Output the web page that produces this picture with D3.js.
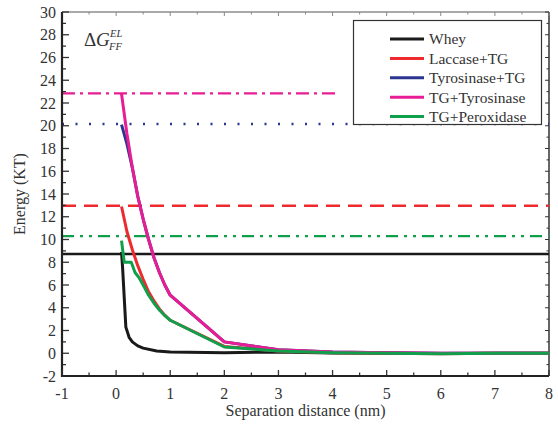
<!DOCTYPE html>
<html>
<head>
<meta charset="utf-8">
<script src="https://cdn.jsdelivr.net/npm/d3@7"></script>
<style>
  html, body { margin: 0; padding: 0; background: #fff; }
  svg { display: block; }
  svg text { font-family: "Liberation Serif", "DejaVu Serif", serif; }
</style>
</head>
<body>
<svg id="chart" width="558" height="433"></svg>
<script>
// Series names and colours
const seriesNames = ["Whey", "Laccase+TG", "Tyrosinase+TG", "TG+Tyrosinase", "TG+Peroxidase"];
const seriesColors = ["#1a1a1a", "#ee2a2e", "#2b3590", "#e81c94", "#10a04c"];

// Energy profiles: separation distance (nm) and energy (KT)
const wheyDist = [0.1, 0.12, 0.18, 0.24, 0.3, 0.4, 0.5, 0.75, 1, 2, 3, 4, 5, 6, 7, 8];
const wheyEnergy = [8.9, 7.5, 2.3, 1.4, 1.0, 0.65, 0.45, 0.2, 0.1, 0.05, 0.12, 0.02, 0, -0.03, 0, 0];

const laccaseDist = [0.1, 0.2, 0.3, 0.4, 0.5, 0.6, 0.7, 0.8, 0.9, 1, 2, 3, 4, 5, 6, 7, 8];
const laccaseEnergy = [12.9, 10.7, 9.1, 7.7, 6.5, 5.4, 4.6, 3.9, 3.35, 2.9, 0.6, 0.2, 0.05, 0, -0.05, 0, 0];

const tyroTgDist = [0.1, 0.2, 0.3, 0.4, 0.5, 0.6, 0.7, 0.8, 0.9, 1, 2, 3, 4, 5, 6, 7, 8];
const tyroTgEnergy = [20.1, 18.4, 16.3, 13.8, 11.8, 10.0, 8.4, 7.1, 6.0, 5.1, 1.0, 0.3, 0.1, 0.05, 0, 0, 0];

const tgTyroDist = [0.1, 0.2, 0.3, 0.4, 0.5, 0.6, 0.7, 0.8, 0.9, 1, 2, 3, 4, 5, 6, 7, 8];
const tgTyroEnergy = [22.8, 19.3, 16.3, 13.8, 11.8, 10.0, 8.4, 7.1, 6.0, 5.1, 1.0, 0.3, 0.1, 0.05, 0, 0, 0];

const peroxDist = [0.1, 0.15, 0.28, 0.35, 0.43, 0.5, 0.6, 0.7, 0.8, 0.9, 1, 2, 3, 4, 5, 6, 7, 8];
const peroxEnergy = [9.9, 8.0, 8.0, 7.1, 6.6, 6.0, 5.1, 4.4, 3.8, 3.3, 2.9, 0.55, 0.2, 0.05, 0, -0.05, 0, 0];

// Maximum energy barrier of each system (horizontal reference lines)
const barrierEnergy = [8.72, 12.97, 20.15, 22.85, 10.3];
const barrierEnd = [8, 8, 8, 4.05, 8];
const barrierDash = ["none", "14,8", "2,11.5", "13,5,3,5", "12,6,3,6,3,6"];

// Axis ticks
const xTicks = [-1, 0, 1, 2, 3, 4, 5, 6, 7, 8];
const yTicks = [-2, 0, 2, 4, 6, 8, 10, 12, 14, 16, 18, 20, 22, 24, 26, 28, 30];

const curves = [
  [wheyDist, wheyEnergy],
  [laccaseDist, laccaseEnergy],
  [tyroTgDist, tyroTgEnergy],
  [tgTyroDist, tgTyroEnergy],
  [peroxDist, peroxEnergy]
];

const FONT = "'Liberation Serif', 'DejaVu Serif', serif";
const svg = d3.select("#chart").attr("font-family", FONT);
const plotLeft = 62, plotRight = 549, plotTop = 12, plotBottom = 376;

const x = d3.scaleLinear().domain([-1, 8]).range([plotLeft, plotRight]);
const y = d3.scaleLinear().domain([-2, 30]).range([plotBottom, plotTop]);

const tickColor = "#333";

// Frame: thin top and right edges with inward minor ticks
const frame = svg.append("g");
frame.append("line").attr("x1", plotLeft).attr("x2", plotRight).attr("y1", plotTop).attr("y2", plotTop)
  .attr("stroke", "#555").attr("stroke-width", 1);
frame.append("line").attr("x1", plotRight).attr("x2", plotRight).attr("y1", plotTop).attr("y2", plotBottom)
  .attr("stroke", "#333").attr("stroke-width", 1.5);

const xMinor = d3.range(-1, 8.01, 0.5);
const yMinor = d3.range(-2, 30.01, 1);

frame.selectAll("line.tt").data(xMinor).join("line").attr("class", "tt")
  .attr("x1", d => x(d)).attr("x2", d => x(d))
  .attr("y1", plotTop).attr("y2", d => plotTop + (Number.isInteger(d) ? 4 : 2.5))
  .attr("stroke", "#888").attr("stroke-width", 1);
frame.selectAll("line.rt").data(yMinor).join("line").attr("class", "rt")
  .attr("x1", plotRight).attr("x2", d => plotRight - (d % 2 === 0 ? 4 : 2.5))
  .attr("y1", d => y(d)).attr("y2", d => y(d))
  .attr("stroke", "#333").attr("stroke-width", 1);

// Reference barrier lines
const refG = svg.append("g");
barrierEnergy.forEach((v, i) => {
  refG.append("line")
    .attr("x1", x(-1)).attr("x2", x(barrierEnd[i]))
    .attr("y1", y(v)).attr("y2", y(v))
    .attr("stroke", seriesColors[i])
    .attr("stroke-width", i === 0 ? 2.6 : 2.4)
    .attr("stroke-dasharray", barrierDash[i]);
});

// Energy curves
const line = d3.line().x(d => x(d[0])).y(d => y(d[1]));
const curveG = svg.append("g");
curves.forEach((c, i) => {
  const pts = c[0].map((d, j) => [d, c[1][j]]);
  curveG.append("path")
    .datum(pts)
    .attr("d", line)
    .attr("fill", "none")
    .attr("stroke", seriesColors[i])
    .attr("stroke-width", 3)
    .attr("stroke-linejoin", "round");
});

// Left axis
const yAxis = svg.append("g").attr("transform", `translate(${plotLeft},0)`);
yAxis.selectAll("line.minor").data(yMinor).join("line").attr("class", "minor")
  .attr("x1", 0).attr("x2", d => (d % 2 === 0 ? 7 : 4))
  .attr("y1", d => y(d)).attr("y2", d => y(d))
  .attr("stroke", tickColor).attr("stroke-width", 1.3);
yAxis.append("line").attr("x1", 0).attr("x2", 0).attr("y1", plotTop).attr("y2", plotBottom + 1)
  .attr("stroke", "#222").attr("stroke-width", 2.2);
yAxis.selectAll("text").data(yTicks).join("text")
  .attr("x", -6).attr("y", d => y(d)).attr("dy", "0.35em")
  .attr("text-anchor", "end").attr("font-size", 16).attr("fill", "#333")
  .attr("font-family", FONT)
  .text(d => d);

// Bottom axis
const xAxis = svg.append("g").attr("transform", `translate(0,${plotBottom})`);
xAxis.selectAll("line.minor").data(xMinor).join("line").attr("class", "minor")
  .attr("x1", d => x(d)).attr("x2", d => x(d))
  .attr("y1", 0).attr("y2", d => -(Number.isInteger(d) ? 6 : 3.5))
  .attr("stroke", tickColor).attr("stroke-width", 1.3);
xAxis.append("line").attr("x1", plotLeft - 1).attr("x2", plotRight).attr("y1", 0).attr("y2", 0)
  .attr("stroke", "#222").attr("stroke-width", 2.2);
xAxis.selectAll("text").data(xTicks).join("text")
  .attr("x", d => x(d)).attr("y", 23)
  .attr("text-anchor", "middle").attr("font-size", 16).attr("fill", "#333")
  .attr("font-family", FONT)
  .text(d => d);

// Axis titles
svg.append("text")
  .attr("x", (plotLeft + plotRight) / 2).attr("y", 416)
  .attr("text-anchor", "middle").attr("font-size", 16).attr("fill", "#333")
  .attr("font-family", FONT)
  .text("Separation distance (nm)");
svg.append("text")
  .attr("transform", `translate(25,${(plotTop + plotBottom) / 2}) rotate(-90)`)
  .attr("text-anchor", "middle").attr("font-size", 16).attr("fill", "#333")
  .attr("font-family", FONT)
  .text("Energy (KT)");

// Panel label ΔG_FF^EL
const lab = svg.append("g").attr("fill", "#333").attr("font-family", FONT);
lab.append("text").attr("x", 84).attr("y", 46).attr("font-size", 19).text("Δ");
lab.append("text").attr("x", 96).attr("y", 46).attr("font-size", 19).attr("font-style", "italic").text("G");
lab.append("text").attr("x", 110).attr("y", 37).attr("font-size", 10.5).attr("font-style", "italic").text("EL");
lab.append("text").attr("x", 109).attr("y", 50).attr("font-size", 10.5).attr("font-style", "italic").text("FF");

// Legend
const legend = svg.append("g").attr("font-family", FONT);
legend.append("rect")
  .attr("x", 353.5).attr("y", 20.5).attr("width", 188).attr("height", 104)
  .attr("fill", "#fff").attr("stroke", "#333").attr("stroke-width", 1.2);
seriesNames.forEach((name, i) => {
  const ry = 39 + i * 19.4;
  legend.append("line")
    .attr("x1", 390).attr("x2", 424).attr("y1", ry).attr("y2", ry)
    .attr("stroke", seriesColors[i]).attr("stroke-width", 3);
  legend.append("text")
    .attr("x", 429).attr("y", ry).attr("dy", "0.35em")
    .attr("font-size", 15.5).attr("fill", "#333")
    .text(name);
});
</script>
</body>
</html>
